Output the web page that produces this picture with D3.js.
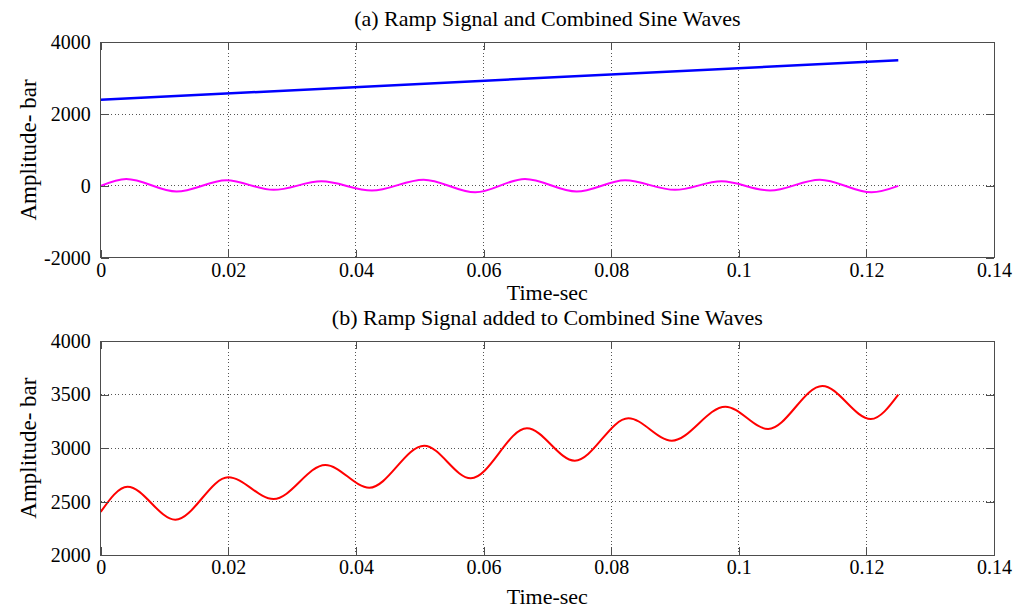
<!DOCTYPE html>
<html>
<head>
<meta charset="utf-8">
<script src="https://cdn.jsdelivr.net/npm/d3@7"></script>
<style>
  html, body { margin: 0; padding: 0; background: #ffffff; }
  svg { display: block; }
  text { font-family: "Liberation Serif", "Times New Roman", serif; fill: #000; }
</style>
</head>
<body>
<svg id="chart" width="1021" height="611"></svg>
<script>
// ---------------- data ----------------
const xTickValues = [0, 0.02, 0.04, 0.06, 0.08, 0.1, 0.12, 0.14];
const xTickLabels = ["0", "0.02", "0.04", "0.06", "0.08", "0.1", "0.12", "0.14"];
const topYTickValues = [-2000, 0, 2000, 4000];
const topYTickLabels = ["-2000", "0", "2000", "4000"];
const bottomYTickValues = [2000, 2500, 3000, 3500, 4000];
const bottomYTickLabels = ["2000", "2500", "3000", "3500", "4000"];

// (a) ramp signal
const rampTime = [0, 0.125];
const rampValue = [2400, 3500];

// (a) combined sine waves (extremes)
const sineTime  = [0, 0.0040, 0.0119, 0.0197, 0.0271, 0.0346, 0.0425, 0.0506, 0.0587,
                   0.0665, 0.0746, 0.0822, 0.0900, 0.0973, 0.1049, 0.1127, 0.1208, 0.1250];
const sineValue = [0, 194, -158, 155, -110, 127, -130, 174, -180,
                   194, -158, 155, -110, 127, -130, 174, -180, 0];

// (b) ramp added to combined sine waves (extremes)
const sumTime  = [0, 0.0042, 0.0117, 0.0200, 0.0271, 0.0352, 0.0421, 0.0507, 0.0580,
                  0.0668, 0.0743, 0.0827, 0.0895, 0.0979, 0.1046, 0.1131, 0.1207, 0.1250];
const sumValue = [2405, 2640, 2332, 2728, 2525, 2843, 2631, 3023, 2719,
                  3185, 2883, 3279, 3070, 3387, 3179, 3580, 3272, 3500];

const titles = ["(a) Ramp Signal and Combined Sine Waves", "(b) Ramp Signal added to Combined Sine Waves"];
const xLabel = "Time-sec";
const yLabels = ["Amplitude- bar", "Amplitude- bar"];

// ---------------- layout ----------------
const svg = d3.select("#chart");
const left = 100.7, right = 994;
const FONT = "'Liberation Serif', 'Times New Roman', serif";
const panels = [
  { top: 42.3, bottom: 257.7, domain: [-2000, 4000], ticks: topYTickValues, tickLabels: topYTickLabels,
    title: titles[0], ylabel: yLabels[0], titleY: 26, xlabelY: 300,
    series: [
      { t: rampTime, v: rampValue, color: "#0000ff", width: 2.5 },
      { t: sineTime, v: sineValue, color: "#ff00ff", width: 2.0 }
    ] },
  { top: 341, bottom: 555.3, domain: [2000, 4000], ticks: bottomYTickValues, tickLabels: bottomYTickLabels,
    title: titles[1], ylabel: yLabels[1], titleY: 325, xlabelY: 604,
    series: [
      { t: sumTime, v: sumValue, color: "#ff0000", width: 2.0 }
    ] }
];

const axisColor = "#4d4d4d";
const tickLen = 8;

panels.forEach(p => {
  const x = d3.scaleLinear().domain([0, 0.14]).range([left, right]);
  const y = d3.scaleLinear().domain(p.domain).range([p.bottom, p.top]);
  const g = svg.append("g");

  // grid (dotted)
  g.append("g").selectAll("line")
    .data(xTickValues.slice(1, -1)).join("line")
    .attr("x1", d => x(d)).attr("x2", d => x(d))
    .attr("y1", p.top).attr("y2", p.bottom)
    .attr("stroke", "#555").attr("stroke-width", 1)
    .attr("stroke-dasharray", "1,2.5").attr("shape-rendering", "crispEdges");
  g.append("g").selectAll("line")
    .data(p.ticks.slice(1, -1)).join("line")
    .attr("x1", left).attr("x2", right)
    .attr("y1", d => y(d)).attr("y2", d => y(d))
    .attr("stroke", "#555").attr("stroke-width", 1)
    .attr("stroke-dasharray", "1,2.5").attr("shape-rendering", "crispEdges");

  // series
  p.series.forEach(s => {
    const pts = s.t.map((t, i) => [t, s.v[i]]);
    const line = d3.line().x(d => x(d[0])).y(d => y(d[1])).curve(d3.curveMonotoneX);
    g.append("path").datum(pts)
      .attr("d", line).attr("fill", "none")
      .attr("stroke", s.color).attr("stroke-width", s.width)
      .attr("stroke-linejoin", "round");
  });

  // axes with inward ticks on all four sides
  const axB = g.append("g").attr("transform", `translate(0,${p.bottom})`)
    .call(d3.axisBottom(x).tickValues(xTickValues).tickSize(-tickLen).tickPadding(5)
      .tickFormat((d, i) => xTickLabels[i]));
  const axT = g.append("g").attr("transform", `translate(0,${p.top})`)
    .call(d3.axisTop(x).tickValues(xTickValues).tickSize(-tickLen).tickFormat(""));
  const axL = g.append("g").attr("transform", `translate(${left},0)`)
    .call(d3.axisLeft(y).tickValues(p.ticks).tickSize(-tickLen).tickPadding(10)
      .tickFormat((d, i) => p.tickLabels[i]));
  const axR = g.append("g").attr("transform", `translate(${right},0)`)
    .call(d3.axisRight(y).tickValues(p.ticks).tickSize(-tickLen).tickFormat(""));
  [axB, axT, axL, axR].forEach(a => {
    a.attr("font-family", FONT).attr("font-size", 20);
    a.select(".domain").remove();
    a.selectAll("line").attr("stroke", axisColor).attr("shape-rendering", "crispEdges");
    a.selectAll("text").attr("fill", "#000");
  });

  // box
  g.append("rect").attr("x", left).attr("y", p.top)
    .attr("width", right - left).attr("height", p.bottom - p.top)
    .attr("fill", "none").attr("stroke", axisColor).attr("stroke-width", 1)
    .attr("shape-rendering", "crispEdges");

  // title
  g.append("text").attr("x", (left + right) / 2).attr("y", p.titleY)
    .attr("text-anchor", "middle").attr("font-family", FONT).style("font-size", "22px").text(p.title);
  // x label
  g.append("text").attr("x", (left + right) / 2).attr("y", p.xlabelY)
    .attr("text-anchor", "middle").attr("font-family", FONT).style("font-size", "22px").text(xLabel);
  // y label
  g.append("text")
    .attr("transform", `translate(36,${(p.top + p.bottom) / 2}) rotate(-90)`)
    .attr("text-anchor", "middle").attr("font-family", FONT).style("font-size", "23px").text(p.ylabel);
});
</script>
</body>
</html>
